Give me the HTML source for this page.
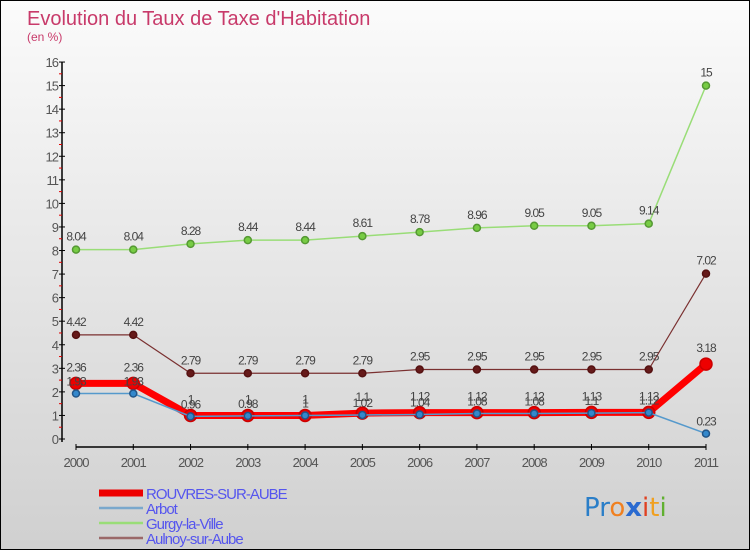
<!DOCTYPE html>
<html><head><meta charset="utf-8"><style>
html,body{margin:0;padding:0}
body{width:750px;height:550px;overflow:hidden;font-family:"Liberation Sans",sans-serif}
#wrap{position:relative;width:748px;height:548px;border:1px solid #000;background:linear-gradient(#fbfbfb,#d0d0d0)}
</style></head><body>
<div id="wrap">
<svg id="chart" width="748" height="548" xmlns="http://www.w3.org/2000/svg">
<text x="26" y="24" font-size="20" fill="#c83a6a">Evolution du Taux de Taxe d'Habitation</text>
<text x="26" y="40" font-size="12" fill="#c83a6a">(en %)</text>
<g id="axes"></g><g id="series"></g><g id="legend"></g>
<g font-size="26" font-family="DejaVu Sans,sans-serif">
<text x="583" y="515"><tspan fill="#2a7ec8">Pr</tspan><tspan fill="#f08020">o</tspan><tspan fill="#2a6ad0" font-weight="bold">x</tspan><tspan fill="#e04020">i</tspan><tspan fill="#f0a020">t</tspan><tspan fill="#60b030">i</tspan></text>
</g>
</svg>
</div>
<script>
const years=["2000","2001","2002","2003","2004","2005","2006","2007","2008","2009","2010","2011"];
const yTicks=[0,1,2,3,4,5,6,7,8,9,10,11,12,13,14,15,16];
const rouvres=[2.36,2.36,1,1,1,1.1,1.12,1.12,1.12,1.13,1.13,3.18];
const arbot=[1.93,1.93,0.96,0.98,1,1.02,1.04,1.08,1.08,1.1,1.12,0.23];
const gurgy=[8.04,8.04,8.28,8.44,8.44,8.61,8.78,8.96,9.05,9.05,9.14,15];
const aulnoy=[4.42,4.42,2.79,2.79,2.79,2.79,2.95,2.95,2.95,2.95,2.95,7.02];
const legendNames=["ROUVRES-SUR-AUBE","Arbot","Gurgy-la-Ville","Aulnoy-sur-Aube"];

const NS="http://www.w3.org/2000/svg";
const x=i=>75+i*(630/11);
const y=v=>438-v*23.56;
function mk(tag,attrs,parent,txt){const e=document.createElementNS(NS,tag);for(const k in attrs)e.setAttribute(k,attrs[k]);if(txt!==undefined)e.textContent=txt;parent.appendChild(e);return e;}
const axes=document.getElementById('axes');
let e=mk('line',{x1:61,y1:y(16),x2:61,y2:441,stroke:'#000','stroke-width':1.5},axes);


yTicks.forEach(t=>{
 mk('line',{x1:58,x2:64,y1:y(t),y2:y(t),stroke:'#000'},axes);
 if(t<16) mk('line',{x1:58,x2:61,y1:y(t+0.5),y2:y(t+0.5),stroke:'#e00000'},axes);
 const tl=mk('text',{x:57,y:y(t)+5,'font-size':13,fill:'#555','text-anchor':'end','letter-spacing':'-1'},axes,t);
 
 
});
e=mk('line',{x1:75,y1:446,x2:705,y2:446,stroke:'#000','stroke-width':1.5},axes);


years.forEach((yr,i)=>{
 mk('line',{x1:x(i),x2:x(i),y1:443,y2:449,stroke:'#000'},axes);
 const tl=mk('text',{x:x(i),y:466,'font-size':13,fill:'#555','text-anchor':'middle','letter-spacing':'-1'},axes,yr);
 
 
});
const S=document.getElementById('series');
function draw(data,color,w,r,name,dotFill,stroke,labelDy){
 const g=mk('g',{},S);
 
 
 mk('polyline',{points:data.map((v,i)=>x(i)+','+y(v)).join(' '),fill:'none',stroke:color,'stroke-width':w,'stroke-linejoin':'round'},g);
 data.forEach((v,i)=>{
  const c=mk('circle',{cx:x(i),cy:y(v),r:r,fill:dotFill,stroke:stroke,'stroke-width':1.5},g);
  
  
  const t=mk('text',{x:x(i),y:y(v)+labelDy,'font-size':12,fill:'#444','text-anchor':'middle','letter-spacing':'-1'},g,String(v));
  
  
 });
}
draw(gurgy,'#99dd77',1.5,3.5,'gurgy','#77cc44','#559933',-9);
draw(aulnoy,'#7a3030',1.2,3.5,'aulnoy','#661a1a','#551111',-9);
draw(rouvres,'#ff0000',7,6,'rouvres','#ee0000','#cc0000',-12);
draw(arbot,'#5599cc',1.5,3.5,'arbot','#3388cc','#225588',-8);
const L=document.getElementById('legend');
const lc=['#ee0000','#7aa8cc','#99dd77','#9a6868'];const lw=[7,2.5,2.5,2.5];
legendNames.forEach((n,i)=>{
 const ly=492+i*15;
 const g=mk('g',{},L);
 
 
 mk('line',{x1:98,x2:142,y1:ly,y2:ly,stroke:lc[i],'stroke-width':lw[i]},g);
 mk('text',{x:145,y:ly+6,'font-size':15,fill:'#5555ee','letter-spacing':'-1'},g,n);
});
</script>
</body></html>
